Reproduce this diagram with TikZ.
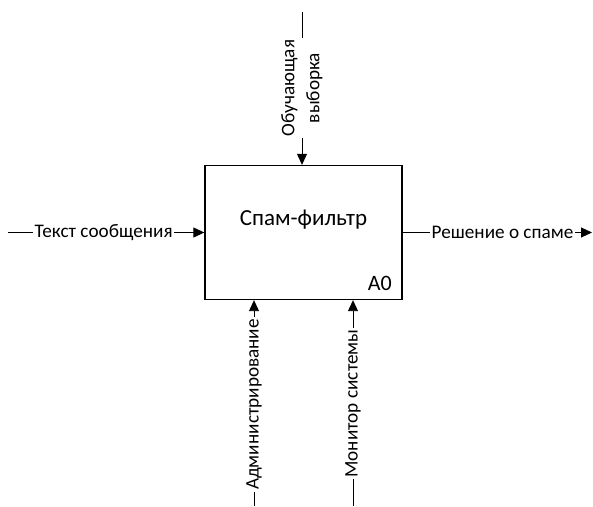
\documentclass[tikz,border=0pt]{standalone}
\usepackage{fontspec}
\setmainfont{Carlito}
\usetikzlibrary{arrows.meta, positioning}

\begin{document}
\begin{tikzpicture}[
        x=1pt, y=-1pt,
        func/.style={draw, line width=1.3pt, minimum width=197pt,
                     minimum height=134pt, inner sep=0pt},
        lbl/.style={inner sep=1.5pt, align=center,
                    font=\fontsize{19.2}{25}\selectfont},
        arrow/.style={-{Triangle[length=11pt, width=10pt]}, line width=0.9pt},
        wire/.style={line width=0.9pt}
    ]
        \useasboundingbox (0,0) rectangle (593,506);
        \node[func] (box) at (303.5,232.5) {};
        \node[font=\fontsize{23}{26}\selectfont] (title) at (303.5,220) {Спам-фильтр};
        \node[font=\fontsize{22}{26}\selectfont, anchor=base east, inner sep=0pt] (num) at (392,290) {A0};
        % input
        \coordinate (in0) at (8,232.5);
        \node[lbl, anchor=west] (inlbl) at (33,232.5) {Текст сообщения};
        \draw[wire] (in0) -- (inlbl.west);
        \draw[arrow] (inlbl.east) -- (box.west);
        % output
        \node[lbl, anchor=west] (outlbl) at (430,232.5) {Решение о спаме};
        \coordinate (out1) at (592,232.5);
        \draw[wire] (box.east) -- (outlbl.west);
        \draw[arrow] (outlbl.east) -- (out1);
        % control
        \coordinate (ctl0) at (302,12);
        \node[lbl, rotate=90] (ctllbl) at (302,88) {Обучающая\\выборка};
        \draw[wire] (ctl0) -- (ctllbl.east);
        \draw[arrow] (ctllbl.west) -- (ctllbl.west |- box.north);
        % mechanisms
        \coordinate (mech1) at (254,506);
        \node[lbl, rotate=90] (mech1lbl) at (254,404.5) {Администрирование};
        \draw[wire] (mech1) -- (mech1lbl.west);
        \draw[arrow] (mech1lbl.east) -- (mech1lbl.east |- box.south);
        \coordinate (mech2) at (353,506);
        \node[lbl, rotate=90] (mech2lbl) at (353,403.5) {Монитор системы};
        \draw[wire] (mech2) -- (mech2lbl.west);
        \draw[arrow] (mech2lbl.east) -- (mech2lbl.east |- box.south);
    \end{tikzpicture}
\end{document}
